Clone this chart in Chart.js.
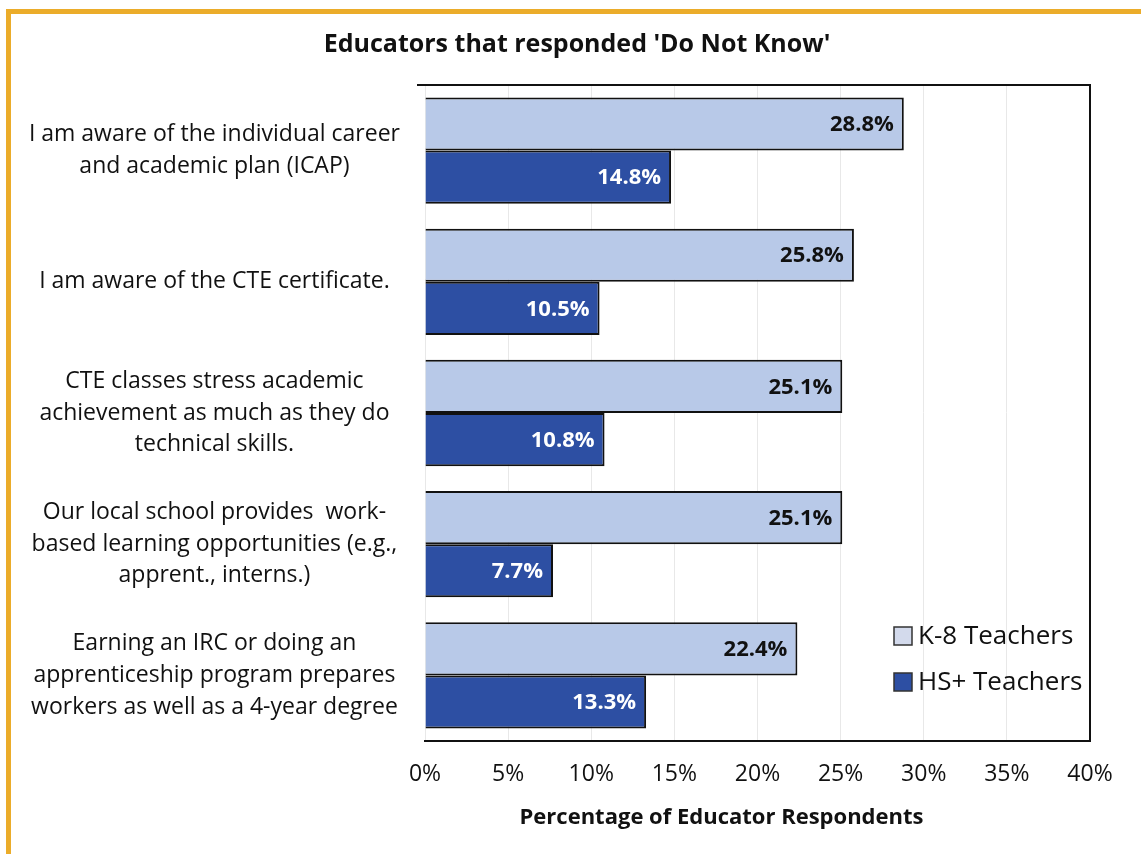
<!DOCTYPE html>
<html>
<head>
<meta charset="utf-8">
<script src="https://cdn.jsdelivr.net/npm/chart.js@4.4.1/dist/chart.umd.min.js"></script>
<style>
  body { margin: 0; background: #fff; }
  #frame {
    position: absolute; left: 6px; top: 9px; width: 1200px; height: 900px;
    border-left: 5px solid #ebac2a; border-top: 5px solid #ebac2a;
  }
  #chart { position: absolute; left: 0; top: 0; }
</style>
</head>
<body>
<div id="frame"></div>
<canvas id="chart" width="1141" height="854"></canvas>
<script>
// data
const categories = [
  ["I am aware of the individual career", "and academic plan (ICAP)"],
  ["I am aware of the CTE certificate."],
  ["CTE classes stress academic", "achievement as much as they do", "technical skills."],
  ["Our local school provides  work-", "based learning opportunities (e.g.,", "apprent., interns.)"],
  ["Earning an IRC or doing an", "apprenticeship program prepares", "workers as well as a 4-year degree"]
];
const k8Values = [28.8, 25.8, 25.1, 25.1, 22.4];
const hsValues = [14.8, 10.5, 10.8, 7.7, 13.3];
const seriesNames = ["K-8 Teachers", "HS+ Teachers"];
const xTicks = [0, 5, 10, 15, 20, 25, 30, 35, 40];

const chartTitle = "Educators that responded 'Do Not Know'";
const xTitle = "Percentage of Educator Respondents";

const FONT = "'Open Sans', 'DejaVu Sans', sans-serif";

// value labels inside the bar ends
const barLabels = {
  id: "barLabels",
  afterDatasetsDraw(chart) {
    const ctx = chart.ctx;
    ctx.save();
    ctx.font = "bold 22px " + FONT;
    ctx.textAlign = "right";
    ctx.textBaseline = "middle";
    chart.data.datasets.forEach((ds, i) => {
      const meta = chart.getDatasetMeta(i);
      ctx.fillStyle = i === 0 ? "#111" : "#fff";
      meta.data.forEach((bar, j) => {
        ctx.fillText(ds.data[j].toFixed(1) + "%", bar.x - 10, bar.y + 1);
      });
    });
    ctx.restore();
  }
};

// title, axis title, box lines and legend
const extras = {
  id: "extras",
  afterDraw(chart) {
    const ctx = chart.ctx;
    const a = chart.chartArea;
    ctx.save();
    ctx.strokeStyle = "#111";
    ctx.lineWidth = 2;
    ctx.beginPath();
    ctx.moveTo(a.left - 8, a.top);
    ctx.lineTo(a.right, a.top);
    ctx.lineTo(a.right, a.bottom);
    ctx.stroke();

    ctx.fillStyle = "#111";
    ctx.textAlign = "center";
    ctx.textBaseline = "middle";
    ctx.font = "bold 25px " + FONT;
    ctx.fillText(chartTitle, 577, 45);
    ctx.font = "bold 22px " + FONT;
    ctx.fillText(xTitle, (a.left + a.right) / 2 - 36, 818);

    // legend
    ctx.textAlign = "left";
    ctx.font = "26px " + FONT;
    const lx = a.right - 196;
    chart.data.datasets.forEach((ds, i) => {
      const y = a.bottom - 105 + i * 46;
      ctx.fillStyle = i === 0 ? "#d3daec" : ds.backgroundColor;
      ctx.fillRect(lx, y - 9, 18, 18);
      ctx.lineWidth = 1.5;
      ctx.strokeStyle = "#333";
      ctx.strokeRect(lx, y - 9, 18, 18);
      ctx.fillStyle = "#111";
      ctx.fillText(ds.label, lx + 24, y + 1);
    });
    ctx.restore();
  }
};

new Chart(document.getElementById("chart"), {
  type: "bar",
  data: {
    labels: categories,
    datasets: [
      {
        label: seriesNames[0],
        data: k8Values,
        backgroundColor: "#b8c9e8",
        borderColor: "#111",
        borderWidth: 2,
        borderSkipped: "start"
      },
      {
        label: seriesNames[1],
        data: hsValues,
        backgroundColor: "#2d4fa3",
        borderColor: "#111",
        borderWidth: 2,
        borderSkipped: "start"
      }
    ]
  },
  options: {
    indexAxis: "y",
    responsive: false,
    animation: false,
    categoryPercentage: 0.81,
    barPercentage: 1,
    layout: { padding: { left: 12, right: 51, top: 85, bottom: 15 } },
    plugins: {
      legend: { display: false },
      title: { display: false },
      tooltip: { enabled: false }
    },
    scales: {
      x: {
        min: 0,
        max: 40,
        afterBuildTicks: (scale) => { scale.ticks = xTicks.map(v => ({ value: v })); },
        afterFit: (scale) => { scale.height = 98; },
        grid: { color: "#e8e8e8", lineWidth: 1, drawTicks: false },
        border: { display: true, color: "#111", width: 2 },
        ticks: {
          padding: 20,
          color: "#111",
          font: { family: FONT, size: 23 },
          callback: (v) => v + "%"
        }
      },
      y: {
        afterFit: (scale) => { scale.width = 413; },
        grid: { display: false, drawTicks: false },
        border: { display: false },
        ticks: {
          padding: 25,
          crossAlign: "center",
          color: "#111",
          font: { family: FONT, size: 23, lineHeight: 1.38 }
        }
      }
    }
  },
  plugins: [barLabels, extras]
});
</script>
</body>
</html>
